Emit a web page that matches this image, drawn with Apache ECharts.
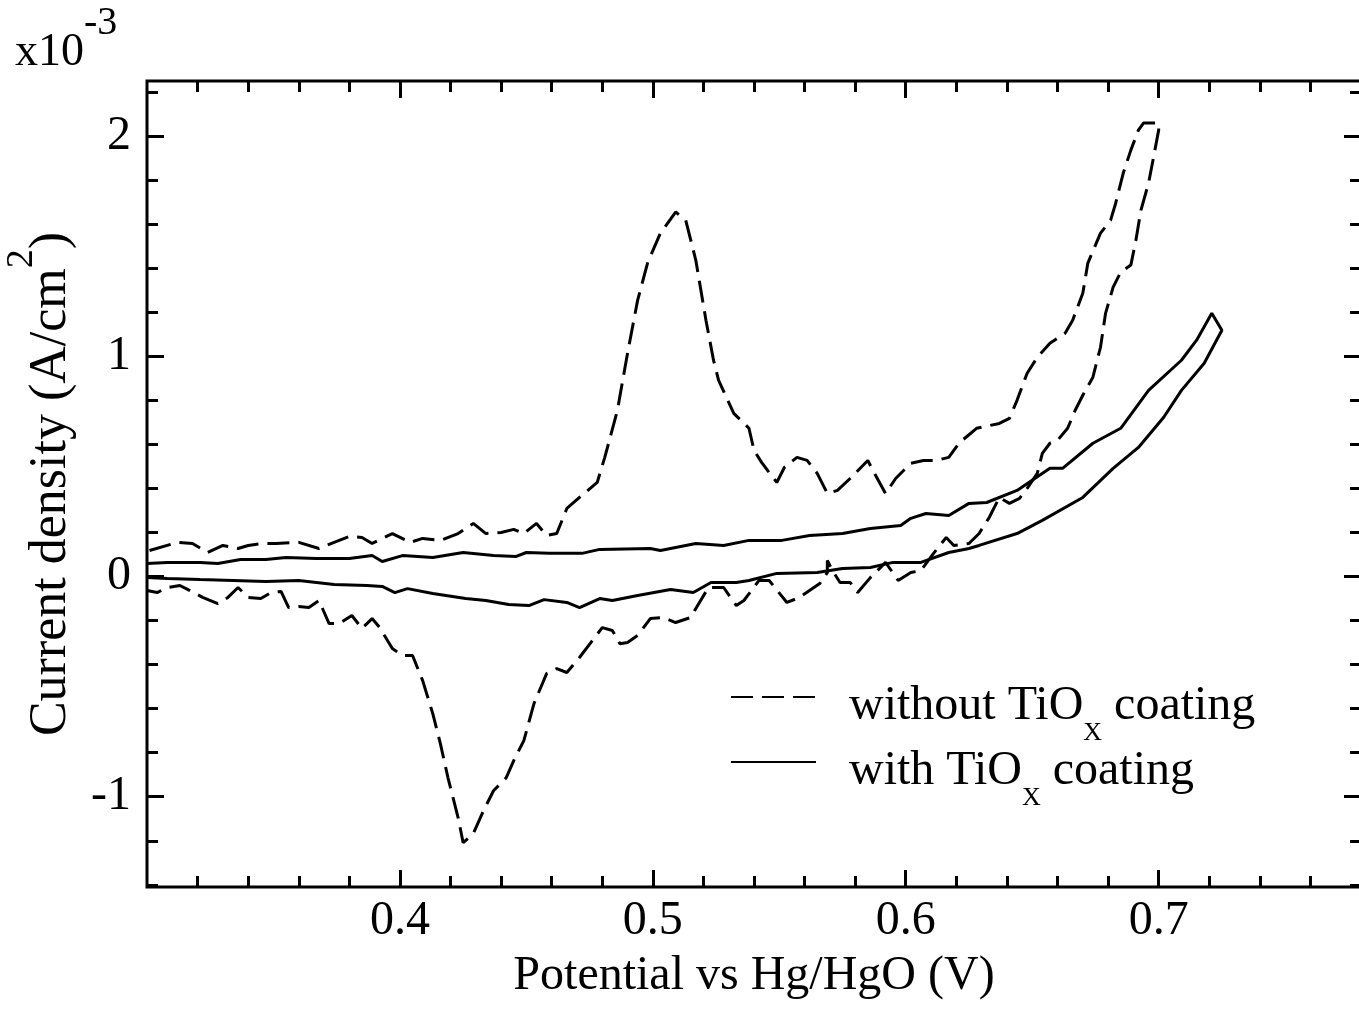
<!DOCTYPE html>
<html>
<head>
<meta charset="utf-8">
<title>Cyclic voltammogram</title>
<script src="https://cdn.jsdelivr.net/npm/echarts@6/dist/echarts.min.js"></script>
<style>
  html, body { margin: 0; padding: 0; background: #fff; }
  #chart { width: 1359px; height: 1013px; }
</style>
</head>
<body>
<div id="chart"></div>
<script>
  // potential (V) vs current density (x1e-3 A/cm2)
  const bareForward = [
    [0.301, 0.118], [0.312, 0.155], [0.318, 0.150], [0.324, 0.109], [0.330, 0.141],
    [0.336, 0.127], [0.340, 0.141], [0.346, 0.150], [0.351, 0.150], [0.360, 0.155],
    [0.368, 0.127], [0.374, 0.155], [0.380, 0.182], [0.385, 0.177], [0.389, 0.150],
    [0.397, 0.195], [0.404, 0.155], [0.409, 0.173], [0.416, 0.164], [0.423, 0.195],
    [0.429, 0.241], [0.434, 0.195], [0.440, 0.200], [0.445, 0.214], [0.449, 0.195],
    [0.454, 0.241], [0.458, 0.186], [0.462, 0.195], [0.466, 0.309], [0.471, 0.359],
    [0.478, 0.427], [0.481, 0.541], [0.486, 0.755], [0.490, 1.014], [0.494, 1.255],
    [0.498, 1.427], [0.503, 1.559], [0.509, 1.655], [0.513, 1.618], [0.517, 1.436],
    [0.521, 1.164], [0.524, 0.982], [0.526, 0.891], [0.532, 0.741], [0.538, 0.673],
    [0.540, 0.573], [0.543, 0.518], [0.549, 0.427], [0.552, 0.495], [0.557, 0.541],
    [0.561, 0.527], [0.565, 0.468], [0.569, 0.377], [0.573, 0.391], [0.578, 0.445],
    [0.585, 0.527], [0.587, 0.482], [0.592, 0.377], [0.596, 0.445], [0.602, 0.514],
    [0.607, 0.527], [0.612, 0.527], [0.617, 0.541], [0.621, 0.605], [0.628, 0.673],
    [0.637, 0.695], [0.641, 0.718], [0.644, 0.800], [0.648, 0.923], [0.652, 0.995],
    [0.657, 1.059], [0.663, 1.105], [0.666, 1.164], [0.670, 1.286], [0.672, 1.423],
    [0.677, 1.559], [0.681, 1.618], [0.683, 1.695], [0.686, 1.832], [0.689, 1.936],
    [0.692, 2.027], [0.694, 2.059], [0.700, 2.059]
  ];
  const bareReverse = [
    [0.700, 2.027], [0.698, 1.905], [0.696, 1.786], [0.693, 1.664], [0.691, 1.527],
    [0.689, 1.414], [0.685, 1.382], [0.682, 1.314], [0.679, 1.195], [0.677, 1.041],
    [0.674, 0.905], [0.670, 0.823], [0.667, 0.755], [0.664, 0.673], [0.660, 0.618],
    [0.657, 0.605], [0.654, 0.559], [0.652, 0.468], [0.648, 0.400], [0.645, 0.355],
    [0.641, 0.332], [0.637, 0.359], [0.633, 0.268], [0.629, 0.195], [0.625, 0.150],
    [0.619, 0.141], [0.616, 0.177], [0.611, 0.105], [0.606, 0.027], [0.602, 0.018],
    [0.597, -0.018], [0.592, 0.064], [0.586, -0.005], [0.581, -0.073], [0.578, -0.027],
    [0.574, -0.027], [0.571, 0.027], [0.569, 0.073], [0.569, 0.018], [0.566, -0.032],
    [0.558, -0.095], [0.553, -0.118], [0.546, -0.018], [0.542, -0.018], [0.536, -0.109],
    [0.533, -0.132], [0.528, -0.050], [0.522, -0.050], [0.517, -0.145], [0.515, -0.186],
    [0.509, -0.209], [0.504, -0.186], [0.499, -0.191], [0.494, -0.268], [0.490, -0.300],
    [0.487, -0.305], [0.484, -0.245], [0.480, -0.232], [0.471, -0.368], [0.466, -0.436],
    [0.462, -0.418], [0.458, -0.441], [0.453, -0.577], [0.449, -0.745], [0.445, -0.836],
    [0.442, -0.914], [0.437, -0.973], [0.433, -1.064], [0.429, -1.168], [0.425, -1.209],
    [0.423, -1.095], [0.419, -0.914], [0.416, -0.759], [0.413, -0.623], [0.409, -0.473],
    [0.405, -0.359], [0.401, -0.359], [0.397, -0.327], [0.392, -0.232], [0.389, -0.191],
    [0.385, -0.236], [0.381, -0.177], [0.376, -0.214], [0.372, -0.214], [0.368, -0.109],
    [0.364, -0.141], [0.360, -0.136], [0.356, -0.141], [0.353, -0.068], [0.349, -0.073],
    [0.345, -0.100], [0.340, -0.095], [0.336, -0.050], [0.332, -0.095], [0.328, -0.123],
    [0.322, -0.095], [0.317, -0.064], [0.313, -0.041], [0.308, -0.050], [0.304, -0.073],
    [0.300, -0.064]
  ];
  const coatedForward = [
    [0.300, 0.059], [0.308, 0.064], [0.321, 0.064], [0.328, 0.059], [0.337, 0.077],
    [0.347, 0.077], [0.355, 0.086], [0.367, 0.082], [0.380, 0.082], [0.389, 0.095],
    [0.393, 0.068], [0.401, 0.095], [0.413, 0.086], [0.425, 0.109], [0.437, 0.095],
    [0.446, 0.091], [0.450, 0.109], [0.459, 0.105], [0.472, 0.105], [0.479, 0.123],
    [0.499, 0.127], [0.503, 0.118], [0.517, 0.150], [0.528, 0.141], [0.538, 0.164],
    [0.551, 0.164], [0.562, 0.186], [0.575, 0.195], [0.586, 0.218], [0.598, 0.232],
    [0.602, 0.264], [0.608, 0.286], [0.617, 0.277], [0.625, 0.332], [0.632, 0.336],
    [0.644, 0.391], [0.657, 0.491], [0.662, 0.491], [0.674, 0.605], [0.685, 0.673],
    [0.696, 0.845], [0.709, 0.982], [0.715, 1.073], [0.721, 1.195]
  ];
  const coatedReverse = [
    [0.725, 1.118], [0.718, 0.968], [0.709, 0.845], [0.702, 0.723], [0.692, 0.586],
    [0.682, 0.491], [0.670, 0.359], [0.654, 0.255], [0.644, 0.195], [0.629, 0.141],
    [0.625, 0.127], [0.617, 0.109], [0.606, 0.064], [0.595, 0.064], [0.586, 0.041],
    [0.575, 0.036], [0.565, 0.018], [0.549, 0.014], [0.538, -0.018], [0.533, -0.027],
    [0.523, -0.027], [0.516, -0.073], [0.507, -0.059], [0.494, -0.086], [0.484, -0.109],
    [0.479, -0.100], [0.471, -0.141], [0.466, -0.118], [0.457, -0.105], [0.451, -0.132],
    [0.443, -0.127], [0.434, -0.109], [0.426, -0.100], [0.413, -0.077], [0.403, -0.055],
    [0.398, -0.073], [0.393, -0.045], [0.387, -0.041], [0.374, -0.036], [0.360, -0.018],
    [0.347, -0.023], [0.334, -0.018], [0.321, -0.014], [0.308, -0.009], [0.300, -0.005]
  ];

  const xMajor = [0.4, 0.5, 0.6, 0.7];
  const xMinor = [0.32, 0.34, 0.36, 0.38, 0.42, 0.44, 0.46, 0.48, 0.52, 0.54, 0.56, 0.58,
                  0.62, 0.64, 0.66, 0.68, 0.72, 0.74, 0.76];
  const yMajor = [-1, 0, 1, 2];
  const yMinor = [-1.4, -1.2, -0.8, -0.6, -0.4, -0.2, 0.2, 0.4, 0.6, 0.8,
                  1.2, 1.4, 1.6, 1.8, 2.2];

  const seriesNames = ['without TiOx coating', 'with TiOx coating'];

  const FONT = 'Liberation Serif';
  const X_MIN = 0.3, X_MAX = 0.78;
  const Y_MIN = -1.41, Y_MAX = 2.25;

  function tickAxis(kind, position, values, length, extra) {
    const axis = {
      type: 'value',
      position: position,
      min: kind === 'x' ? X_MIN : Y_MIN,
      max: kind === 'x' ? X_MAX : Y_MAX,
      axisLine: { show: false, onZero: false },
      splitLine: { show: false },
      axisTick: {
        show: true,
        inside: true,
        length: length,
        customValues: values,
        lineStyle: { color: '#000', width: 3 }
      },
      axisLabel: { show: false }
    };
    return Object.assign(axis, extra || {});
  }

  const labelStyle = { fontSize: 48, fontFamily: FONT, color: '#000' };

  const chart = echarts.init(document.getElementById('chart'));

  const option = {
    animation: false,
    backgroundColor: '#fff',
    title: {
      text: 'x10{sup|-3}',
      left: 15,
      top: 3,
      padding: 0,
      textStyle: {
        fontSize: 46, fontWeight: 'normal', fontFamily: FONT, color: '#000',
        rich: { sup: { fontSize: 40, fontFamily: FONT, color: '#000', padding: [0, 0, 60, 0] } }
      }
    },
    legend: seriesNames.map((name, i) => ({
      data: [name],
      left: 730,
      top: 682 + i * 65,
      padding: 0,
      itemWidth: 85,
      itemHeight: 14,
      selectedMode: false,
      // hide the little marker that line legends put in the middle
      itemStyle: { color: 'transparent', borderColor: 'transparent', borderWidth: 0, opacity: 0 },
      formatter: n => n.replace('TiOx', 'TiO{sub|X}'),
      textStyle: {
        fontSize: 48, fontFamily: FONT, color: '#000',
        padding: [18, 0, 0, 28],
        rich: { sub: { fontSize: 26, fontFamily: FONT, color: '#000', padding: [55, 0, 0, 0] } }
      }
    })),
    grid: {
      left: 147,
      top: 81,
      width: 1214,
      height: 806,
      show: true,
      borderWidth: 3,
      borderColor: '#000',
      outerBoundsMode: 'none'
    },
    xAxis: [
      tickAxis('x', 'bottom', xMajor, 17, {
        axisLabel: Object.assign({
          show: true, customValues: xMajor, margin: 10,
          formatter: v => v.toFixed(1)
        }, labelStyle),
        name: 'Potential vs Hg/HgO (V)',
        nameLocation: 'middle',
        nameGap: 65,
        nameTextStyle: labelStyle
      }),
      tickAxis('x', 'bottom', xMinor, 11),
      tickAxis('x', 'top', xMajor, 17),
      tickAxis('x', 'top', xMinor, 11)
    ],
    yAxis: [
      tickAxis('y', 'left', yMajor, 17, {
        axisLabel: Object.assign({
          show: true, customValues: yMajor, margin: 16,
          formatter: v => String(v)
        }, labelStyle),
        name: 'Current density (A/cm{sup|2})',
        nameLocation: 'middle',
        nameGap: 48,
        nameTextStyle: {
          fontSize: 52, fontFamily: FONT, color: '#000',
          rich: { sup: { fontSize: 38, fontFamily: FONT, color: '#000', padding: [0, 0, 58, 0] } }
        }
      }),
      tickAxis('y', 'left', yMinor, 11),
      tickAxis('y', 'right', yMajor, 17),
      tickAxis('y', 'right', yMinor, 11)
    ],
    series: [
      {
        name: seriesNames[0],
        type: 'line',
        data: bareForward.concat(bareReverse),
        symbol: 'none',
        itemStyle: { color: '#000' },
        lineStyle: { color: '#000', width: 3, type: [22, 9] }
      },
      {
        name: seriesNames[1],
        type: 'line',
        data: coatedForward.concat(coatedReverse),
        symbol: 'none',
        itemStyle: { color: '#000' },
        lineStyle: { color: '#000', width: 3, type: 'solid' }
      }
    ]
  };

  chart.setOption(option);
</script>
</body>
</html>
